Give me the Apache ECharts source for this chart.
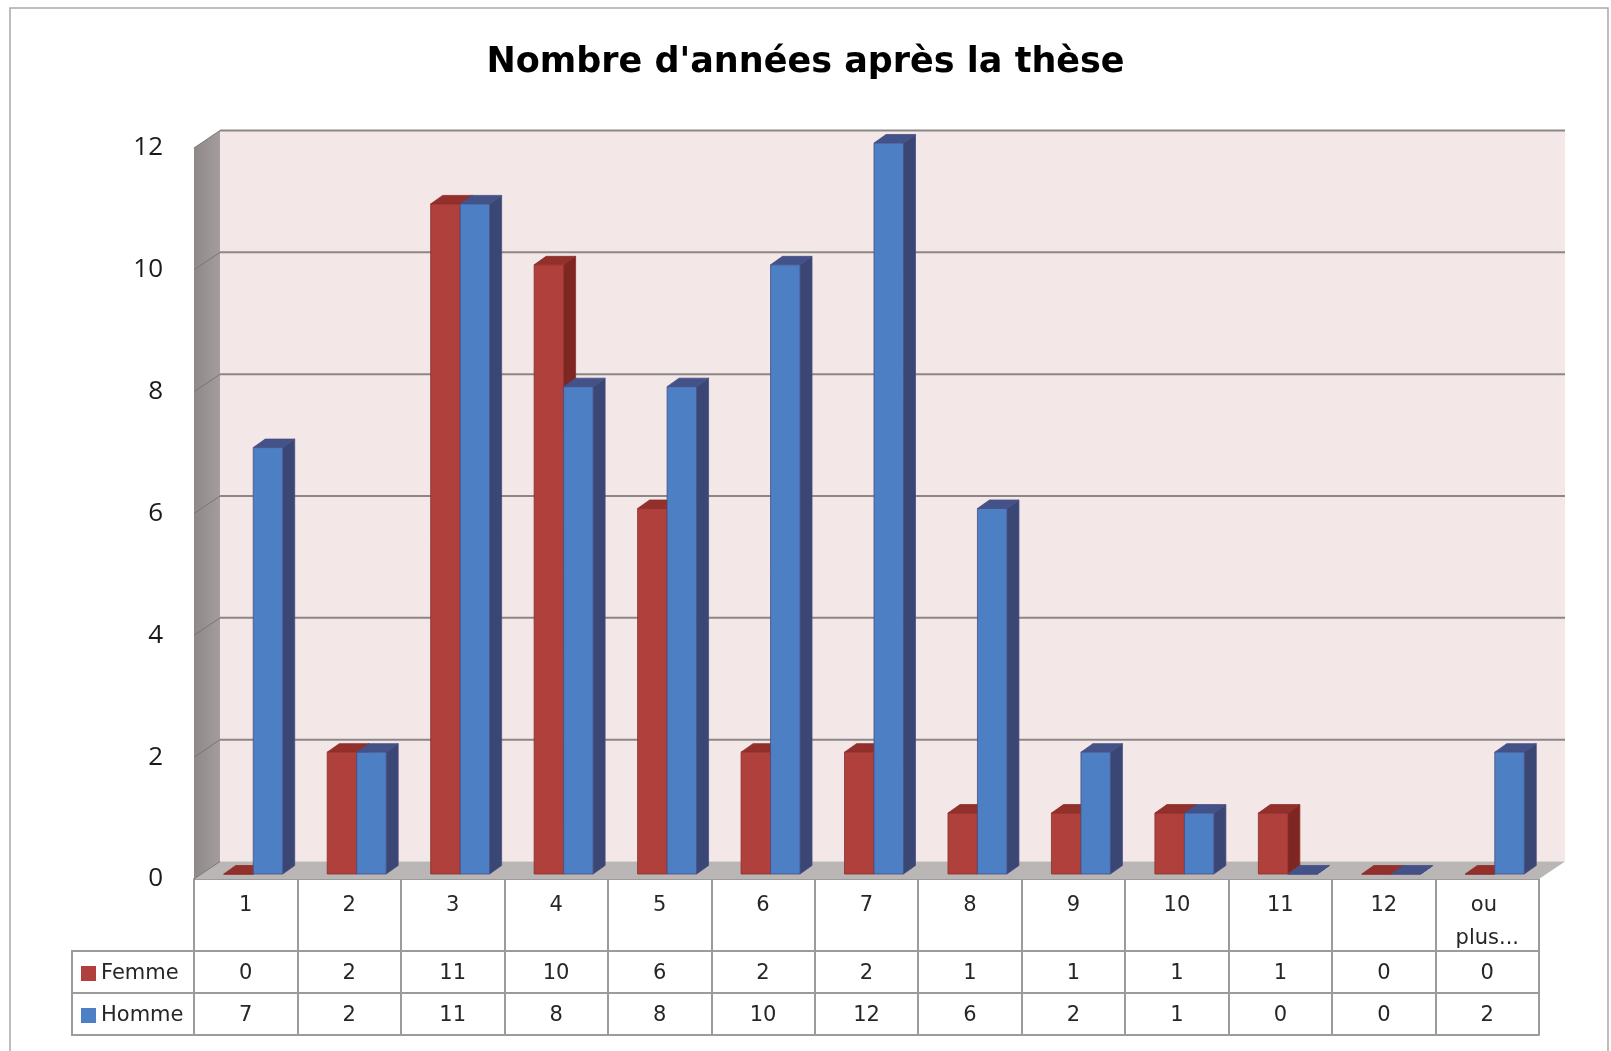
<!DOCTYPE html>
<html><head><meta charset="utf-8">
<script src="https://cdn.jsdelivr.net/npm/echarts@6/dist/echarts.min.js"></script>
<style>html,body{margin:0;padding:0;background:#fff}#c{width:1611px;height:1051px}</style>
</head><body><div id="c"></div>
<script>
// ---- data ----
const chartTitle = "Nombre d'années après la thèse";
const categories = ['1','2','3','4','5','6','7','8','9','10','11','12','ou plus...'];
const femme = [0,2,11,10,6,2,2,1,1,1,1,0,0];
const homme = [7,2,11,8,8,10,12,6,2,1,0,0,2];
const seriesNames = ['Femme','Homme'];
const yTicks = [0,2,4,6,8,10,12];

// ---- layout / style constants ----
const GRID = {left:194, right:72, top:148, bottom:172};
const WALL = {dx:26, dy:17.5};
const BAR = {fx:7.5, fy:5, dx:12, dy:8.5, wFrac:0.285};
const LINE = '#9b9b9b';
const COLS = [
  {front:'#B0403C', top:'#93302C', side:'#7E2622', stroke:'#8A2E2A'},
  {front:'#4C7FC3', top:'#43538A', side:'#3A4674', stroke:'#4A4C82'}
];

function renderWalls(params, api) {
  const n = categories.length;
  const bw = api.size([1, 0])[0];
  const L = api.coord([0, 0])[0] - bw / 2;
  const R = api.coord([n - 1, 0])[0] + bw / 2;
  const y0 = api.coord([0, yTicks[0]])[1];
  const yT = api.coord([0, yTicks[yTicks.length - 1]])[1];
  const dx = WALL.dx, dy = WALL.dy;
  const ch = [
    {type:'rect', shape:{x:L+dx, y:yT-dy, width:R-L, height:y0-yT}, style:{fill:'#F4E7E7'}},
    {type:'polygon', shape:{points:[[L,yT],[L+dx,yT-dy],[L+dx,y0-dy],[L,y0]]},
      style:{fill:{type:'linear',x:0,y:0,x2:1,y2:0,colorStops:[{offset:0,color:'#8e8888'},{offset:1,color:'#a39d9d'}]}}},
    {type:'polygon', shape:{points:[[L,y0],[L+dx,y0-dy],[R+dx,y0-dy],[R,y0]]}, style:{fill:'#BAB6B6'}}
  ];
  yTicks.forEach(function (t) {
    const y = api.coord([0, t])[1];
    if (t > 0) ch.push({type:'line', shape:{x1:L+dx, y1:y-dy, x2:R+dx, y2:y-dy}, style:{stroke:'#8c8787', lineWidth:2}});
    ch.push({type:'line', shape:{x1:L, y1:y, x2:L+dx, y2:y-dy}, style:{stroke:'#7a7474', lineWidth:1}});
  });
  return {type:'group', children:ch};
}

function makeBarRenderer(sIdx) {
  const col = COLS[sIdx];
  return function (params, api) {
    const idx = api.value(0), v = api.value(1);
    const base = api.coord([idx, 0]);
    const top = api.coord([idx, v]);
    const bw = api.size([1, 0])[0];
    const w = bw * BAR.wFrac;
    const x0 = base[0] + (sIdx - 1) * w + BAR.fx;
    const x1 = x0 + w;
    const yb = base[1] - BAR.fy, yt = top[1] - BAR.fy;
    const dx = BAR.dx, dy = BAR.dy;
    return {type:'group', children:[
      {type:'polygon', shape:{points:[[x1,yt],[x1+dx,yt-dy],[x1+dx,yb-dy],[x1,yb]]}, style:{fill:col.side, stroke:col.stroke, lineWidth:0.8}},
      {type:'polygon', shape:{points:[[x0,yt],[x0+dx,yt-dy],[x1+dx,yt-dy],[x1,yt]]}, style:{fill:col.top, stroke:col.stroke, lineWidth:0.8}},
      {type:'rect', shape:{x:x0, y:yt, width:w, height:yb-yt}, style:{fill:col.front, stroke:col.stroke, lineWidth:0.8}}
    ]};
  };
}

const tableFont = {fontSize:21, color:'#262626', fontFamily:'DejaVu Sans'};
function rowAxis(offset, values, tickLen) {
  return {
    type:'category', gridIndex:0, position:'bottom', offset:offset, data:categories,
    axisLine:{show:true, lineStyle:{color:LINE, width:2}},
    axisTick:{show: tickLen > 0, interval:0, length:tickLen, lineStyle:{color:LINE, width:2}},
    axisLabel:Object.assign({show: !!values, interval:0, margin:11, lineHeight:24,
      formatter:function (v, i) { return values ? String(values[i]) : ''; }}, tableFont),
    splitLine:{show:false}
  };
}

const chart = echarts.init(document.getElementById('c'), null, {renderer:'canvas'});
chart.setOption({
  backgroundColor:'#ffffff',
  animation:false,
  title:{text:chartTitle, left:'center', top:45, padding:0,
    textStyle:{fontFamily:'DejaVu Sans', fontWeight:'bold', fontSize:35, color:'#000'}},
  grid:{left:GRID.left, right:GRID.right, top:GRID.top, bottom:GRID.bottom, containLabel:false, outerBoundsMode:'none'},
  legend:{orient:'vertical', left:81, top:963, itemWidth:15, itemHeight:15, itemGap:21, icon:'rect',
    padding:0, selectedMode:false, data:seriesNames,
    textStyle:Object.assign({lineHeight:21}, tableFont)},
  xAxis:[
    {type:'category', gridIndex:0, position:'bottom', data:categories,
      axisLine:{show:true, lineStyle:{color:LINE, width:2}},
      axisTick:{show:true, interval:0, length:72, lineStyle:{color:LINE, width:2}},
      axisLabel:Object.assign({interval:0, margin:10, lineHeight:33, width:80, overflow:'break'}, tableFont),
      splitLine:{show:false}},
    rowAxis(72, femme, 42),
    rowAxis(114, homme, 42),
    rowAxis(156, null, 0)
  ],
  yAxis:{type:'value', gridIndex:0, min:yTicks[0], max:yTicks[yTicks.length-1], interval:2,
    axisLine:{show:false}, axisTick:{show:false}, splitLine:{show:false},
    axisLabel:{fontSize:26, color:'#1a1a1a', margin:31, fontFamily:'Open Sans'}},
  graphic:[
    {type:'polyline', silent:true, shape:{points:[[10,1051],[10,8],[1608,8],[1608,1051]]}, style:{stroke:'#a8a8a8', lineWidth:1.5, fill:null}},
    {type:'rect', silent:true, shape:{x:72, y:951, width:122, height:84}, style:{fill:null, stroke:LINE, lineWidth:2}},
    {type:'line', silent:true, shape:{x1:72, y1:993, x2:194, y2:993}, style:{stroke:LINE, lineWidth:2}}
  ],
  series:[
    {type:'custom', name:'walls', silent:true, z:1, clip:false, renderItem:renderWalls, data:[[0,0]], tooltip:{show:false}},
    {type:'custom', name:seriesNames[0], z:2, clip:false, renderItem:makeBarRenderer(0),
      itemStyle:{color:COLS[0].front}, data:femme.map(function (v, i) { return [i, v]; })},
    {type:'custom', name:seriesNames[1], z:3, clip:false, renderItem:makeBarRenderer(1),
      itemStyle:{color:COLS[1].front}, data:homme.map(function (v, i) { return [i, v]; })}
  ]
});
</script>
</body></html>
